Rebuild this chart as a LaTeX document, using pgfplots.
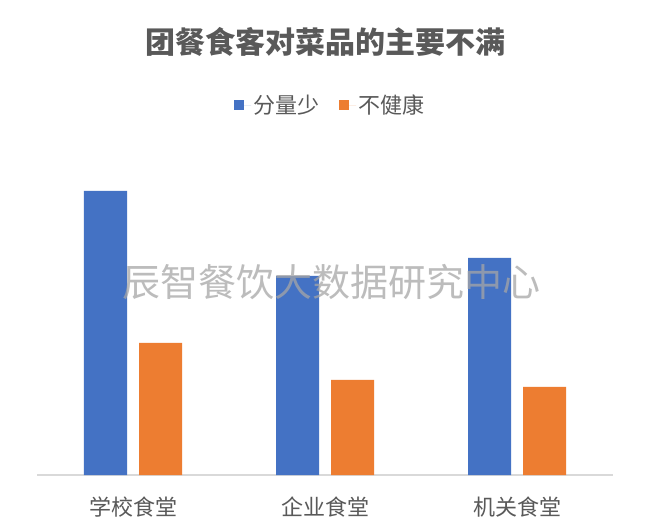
\documentclass[border=0pt]{standalone}
\usepackage{fontspec}
\setmainfont{Noto Sans CJK SC}
\usepackage{pgfplots}
\pgfplotsset{compat=1.18}
\definecolor{cblue}{HTML}{4472C4}
\definecolor{corange}{HTML}{ED7D31}
\definecolor{txt}{HTML}{595959}
\definecolor{gridc}{HTML}{D9D9D9}
\begin{document}
\begin{tikzpicture}
\useasboundingbox[fill=white] (0,0) rectangle (650bp,531bp);
\begin{axis}[
  at={(37bp,56bp)}, anchor=south west,
  scale only axis, width=576bp, height=300bp,
  xmin=-0.5, xmax=2.5, ymin=0, ymax=30,
  hide y axis,
  axis x line*=bottom,
  x axis line style={draw=gridc, line width=1.2bp},
  xtick={0,1,2},
  xticklabels={学校食堂,企业食堂,机关食堂},
  major tick length=0pt,
  xticklabel style={font=\fontsize{22bp}{26bp}\selectfont, text=txt, yshift=-18bp},
  ybar,
  bar width=43bp,
  clip=false,
  legend style={at={(0.509,1.233)}, anchor=center, draw=none, fill=none,
    legend columns=2, font=\fontsize{22bp}{26bp}\selectfont, text=txt,
    /tikz/every even column/.append style={column sep=18bp},
    inner sep=0pt},
  legend image code/.code={\fill (0bp,-5bp) rectangle (10bp,5bp); \path (0bp,0bp) -- (17bp,0bp);},
]
\addplot[fill=cblue, draw=none, bar shift=-27.5bp] coordinates {(0,28.4) (1,19.9) (2,21.7)};
\addplot[fill=corange, draw=none, bar shift=27.5bp] coordinates {(0,13.2) (1,9.5) (2,8.8)};
\legend{分量少,不健康}
\end{axis}
\node[text=txt, font=\fontsize{30bp}{36bp}\selectfont\bfseries] at (325bp,489bp) {团餐食客对菜品的主要不满};
\node[text=gray!70, text opacity=0.75, font=\fontsize{38bp}{44bp}\selectfont] at (331.5bp,249bp) {辰智餐饮大数据研究中心};
\end{tikzpicture}
\end{document}
